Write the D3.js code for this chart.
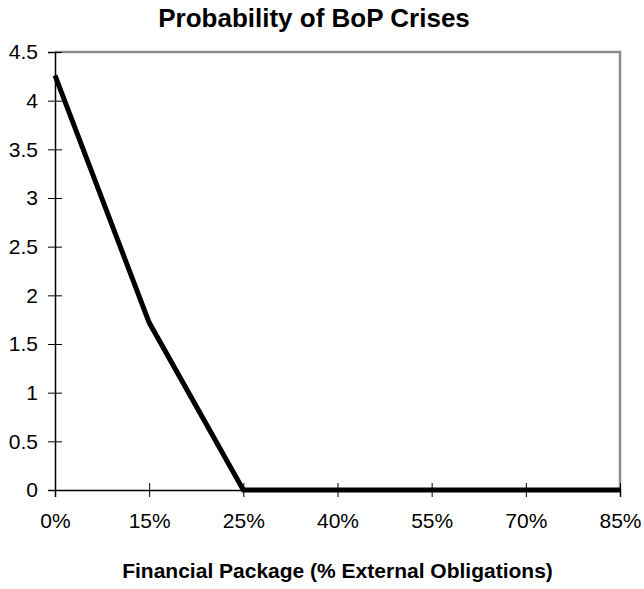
<!DOCTYPE html>
<html>
<head>
<meta charset="utf-8">
<script src="https://cdn.jsdelivr.net/npm/d3@7"></script>
<style>
  body { margin: 0; background: #fff; }
  text { font-family: "Liberation Sans", Arial, sans-serif; }
</style>
</head>
<body>
<script>
var categories = ["0%", "15%", "25%", "40%", "55%", "70%", "85%"];
var values = [4.26, 1.72, 0, 0, 0, 0, 0];
var yTicks = [0, 0.5, 1, 1.5, 2, 2.5, 3, 3.5, 4, 4.5];

var width = 644, height = 589;
var margin = {left: 55, right: 24, top: 52, bottom: 99};

var svg = d3.select("body").append("svg").attr("width", width).attr("height", height);

var x = d3.scalePoint()
        .domain(categories)
        .range([margin.left, width - margin.right]);

var y = d3.scaleLinear()
        .domain([0, 4.5])
        .range([height - margin.bottom, margin.top]);

// plot border (top and right)
svg.append("path")
    .attr("d", "M" + margin.left + "," + margin.top + "H" + (width - margin.right) + "V" + (height - margin.bottom))
    .attr("fill", "none")
    .attr("stroke", "#8c8c8c")
    .attr("stroke-width", 2.5);

var yAxis = d3.axisLeft(y).tickValues(yTicks).tickSize(7).tickPadding(10).tickFormat(function (d) { return d; });
var xAxis = d3.axisBottom(x).tickSize(7).tickPadding(16);

var gy = svg.append("g").attr("transform", "translate(" + margin.left + ",0)").call(yAxis);
var gx = svg.append("g").attr("transform", "translate(0," + (height - margin.bottom) + ")").call(xAxis);

[gx, gy].forEach(function (g) {
    g.select(".domain").attr("stroke", "#000").attr("stroke-width", 1.5);
    g.selectAll(".tick line").attr("stroke", "#000");
    g.selectAll(".tick text").attr("fill", "#000")
        .style("font-size", "21px")
        .style("font-family", "'Liberation Sans', Arial, sans-serif");
});
// ticks cross the axes
gy.selectAll(".tick line").attr("x1", 7);
gx.selectAll(".tick line").attr("y1", -7);

svg.append("text")
    .attr("x", 314)
    .attr("y", 27)
    .attr("text-anchor", "middle")
    .style("font-size", "26px")
    .style("font-weight", "bold")
    .text("Probability of BoP Crises");

svg.append("text")
    .attr("x", (margin.left + width - margin.right) / 2)
    .attr("y", 578)
    .attr("text-anchor", "middle")
    .style("font-size", "21px")
    .style("font-weight", "bold")
    .text("Financial Package (% External Obligations)");

var line = d3.line()
    .x(function (d, i) { return x(categories[i]); })
    .y(function (d) { return y(d); });

svg.append("path")
    .datum(values)
    .attr("d", line)
    .attr("fill", "none")
    .attr("stroke", "#000")
    .attr("stroke-width", 5);
</script>
</body>
</html>
